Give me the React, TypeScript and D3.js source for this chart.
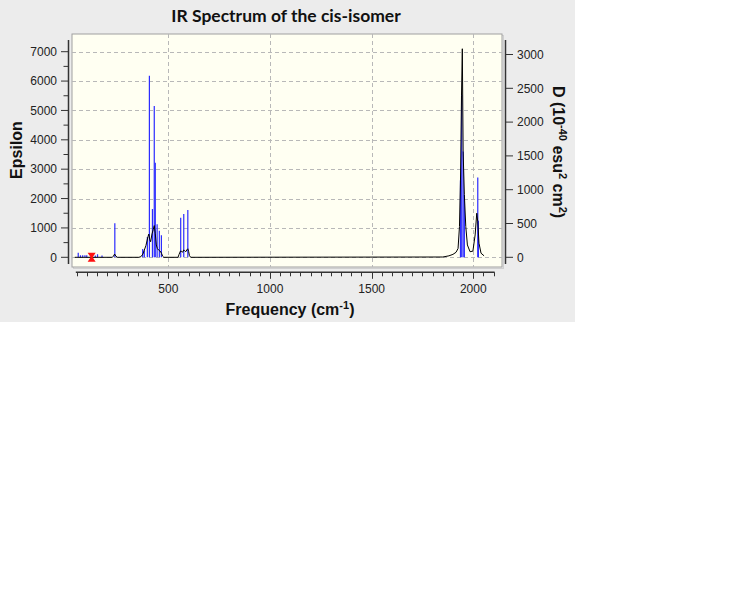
import React from "react";
import * as d3 from "d3";

// Stick spectrum: frequency (cm-1) and dipole strength D (10^-40 esu^2 cm^2), right axis
const stickFreq = [57, 68, 79, 90, 99, 141, 152, 174, 237, 374, 382, 397, 407, 422, 431, 436, 445, 456, 466, 561, 576, 596, 1937, 1943, 1950, 1956, 2022, 2025];
const stickD = [68, 30, 30, 30, 30, 25, 45, 25, 503, 123, 100, 300, 2686, 714, 2238, 1400, 490, 394, 325, 586, 640, 700, 1140, 2400, 1570, 920, 1180, 540];

// Broadened spectrum: frequency (cm-1) and epsilon, left axis
const curveFreq = [40, 225, 230, 236, 242, 250, 355, 365, 375, 390, 400, 404, 409, 413, 420, 426, 431, 436, 441, 446, 452, 458, 463, 467, 472, 478, 548, 553, 560, 566, 570, 576, 580, 586, 592, 596, 600, 604, 610, 1850, 1880, 1900, 1915, 1925, 1932, 1937, 1942, 1946, 1950, 1956, 1963, 1971, 1984, 1998, 2009, 2017, 2022, 2028, 2038, 2053];
const curveEps = [0, 0, 40, 110, 40, 0, 0, 20, 110, 400, 700, 790, 600, 530, 800, 950, 1080, 800, 420, 300, 250, 220, 180, 130, 40, 0, 0, 100, 215, 200, 170, 250, 230, 190, 260, 290, 200, 60, 0, 10, 50, 100, 170, 300, 1050, 2630, 5520, 7100, 3600, 2130, 1050, 420, 190, 210, 760, 1500, 1210, 480, 140, 50];

const selectedMode = 123;

const leftTicks = [0, 1000, 2000, 3000, 4000, 5000, 6000, 7000];
const leftMinorTicks = [500, 1500, 2500, 3500, 4500, 5500, 6500];
const rightTicks = [0, 500, 1000, 1500, 2000, 2500, 3000];
const xMajorTicks = [500, 1000, 1500, 2000];
const xMinorTicks = d3.range(50, 2101, 50);

const FONT = "'Liberation Sans', Arial, sans-serif";

export default function App() {
  const x = d3.scaleLinear().domain([500, 2000]).range([168.3, 473.3]);
  const yL = d3.scaleLinear().domain([0, 7000]).range([257.3, 51.7]);
  const yR = d3.scaleLinear().domain([0, 3000]).range([257.3, 54.5]);

  const plot = { x: 72, y: 34, w: 430, h: 233 };

  const line = d3
    .line<number>()
    .x((_, i) => x(curveFreq[i]))
    .y((_, i) => yL(curveEps[i]));
  const curvePath = line(curveEps) || "";

  const axisY = 272.3;
  const mx = x(selectedMode);
  const my = yL(0);

  return (
    <div style={{ position: "absolute", left: 0, top: 0 }}>
      <svg width={750} height={600} style={{ display: "block" }}>
        <rect x={0} y={0} width={750} height={600} fill="#ffffff" />
        <rect x={0} y={0} width={575} height={322} fill="#ececec" />
        <defs>
          <clipPath id="plotclip">
            <rect x={plot.x} y={plot.y} width={plot.w} height={plot.h} />
          </clipPath>
        </defs>
        {/* title */}
        <text x={286} y={22} textAnchor="middle" fontFamily="Lato, 'Open Sans', sans-serif" fontWeight="bold" fontSize={17.5} fill="#111">
          IR Spectrum of the cis-isomer
        </text>
        {/* plot frame */}
        <rect x={plot.x + 1.5} y={plot.y + 1.5} width={plot.w} height={plot.h} fill="none" stroke="#d0d0d0" strokeWidth={1} />
        <rect x={plot.x} y={plot.y} width={plot.w} height={plot.h} fill="#fffff2" stroke="#a0a0a0" strokeWidth={1} />
        {/* grid */}
        <g stroke="#b8b8b8" strokeWidth={1} strokeDasharray="4,3">
          {xMajorTicks.map((t) => (
            <line key={"gx" + t} x1={Math.round(x(t)) + 0.5} x2={Math.round(x(t)) + 0.5} y1={plot.y} y2={plot.y + plot.h} />
          ))}
          {leftTicks.map((t) => (
            <line key={"gy" + t} x1={plot.x} x2={plot.x + plot.w} y1={Math.round(yL(t)) + 0.5} y2={Math.round(yL(t)) + 0.5} />
          ))}
        </g>
        <g clipPath="url(#plotclip)">
          {/* sticks */}
          <g stroke="#2b2bff" strokeWidth={1.2}>
            {stickFreq.map((f, i) => (
              <line key={"s" + i} x1={x(f)} x2={x(f)} y1={yR(0)} y2={yR(stickD[i])} />
            ))}
          </g>
          {/* broadened curve */}
          <path d={curvePath} fill="none" stroke="#000" strokeWidth={1} />
          {/* selected mode marker */}
          <path
            d={`M${mx - 4},${my - 4.5} L${mx + 4},${my - 4.5} L${mx + 1},${my} L${mx + 4},${my + 4.5} L${mx - 4},${my + 4.5} L${mx - 1},${my} Z`}
            fill="#ff1010"
          />
        </g>
        {/* left axis */}
        <g fontFamily={FONT} fontSize={12} fill="#222">
          <line x1={68.5} x2={68.5} y1={40} y2={264} stroke="#333" strokeWidth={1.5} />
          {leftTicks.map((t) => (
            <g key={"lt" + t}>
              <line x1={61} x2={68.5} y1={yL(t)} y2={yL(t)} stroke="#333" strokeWidth={1} />
              <text x={57} y={yL(t) + 4.3} textAnchor="end">{t}</text>
            </g>
          ))}
          {leftMinorTicks.map((t) => (
            <line key={"lm" + t} x1={63.5} x2={68.5} y1={yL(t)} y2={yL(t)} stroke="#333" strokeWidth={1} />
          ))}
        </g>
        {/* right axis */}
        <g fontFamily={FONT} fontSize={12} fill="#222">
          <line x1={505.5} x2={505.5} y1={40} y2={264} stroke="#333" strokeWidth={1.5} />
          {rightTicks.map((t) => (
            <g key={"rt" + t}>
              <line x1={505.5} x2={513} y1={yR(t)} y2={yR(t)} stroke="#333" strokeWidth={1} />
              <text x={517} y={yR(t) + 4.3} textAnchor="start">{t}</text>
            </g>
          ))}
        </g>
        {/* bottom axis */}
        <g fontFamily={FONT} fontSize={12} fill="#222">
          <line x1={x(50) - 1} x2={x(2100) + 1} y1={axisY} y2={axisY} stroke="#333" strokeWidth={1.5} />
          {xMinorTicks.map((t) => (
            <line key={"xm" + t} x1={Math.round(x(t)) + 0.5} x2={Math.round(x(t)) + 0.5} y1={axisY} y2={t % 500 === 0 ? axisY + 6.5 : axisY + 4} stroke="#333" strokeWidth={1} />
          ))}
          {xMajorTicks.map((t) => (
            <text key={"xl" + t} x={x(t)} y={293} textAnchor="middle">{t}</text>
          ))}
        </g>
        {/* axis titles */}
        <text transform="translate(22,150) rotate(-90)" textAnchor="middle" fontFamily={FONT} fontWeight="bold" fontSize={16} fill="#111">
          Epsilon
        </text>
        <text x={290} y={315} textAnchor="middle" fontFamily={FONT} fontWeight="bold" fontSize={16} fill="#111">
          Frequency (cm<tspan dy={-6} fontSize={11}>-1</tspan><tspan dy={6}>)</tspan>
        </text>
        <text transform="translate(553,152) rotate(90)" textAnchor="middle" fontFamily={FONT} fontWeight="bold" fontSize={16} fill="#111">
          D (10<tspan dy={-6} fontSize={11}>-40</tspan><tspan dy={6}> esu</tspan><tspan dy={-6} fontSize={11}>2</tspan><tspan dy={6}> cm</tspan><tspan dy={-6} fontSize={11}>2</tspan><tspan dy={6}>)</tspan>
        </text>
      </svg>
    </div>
  );
}
